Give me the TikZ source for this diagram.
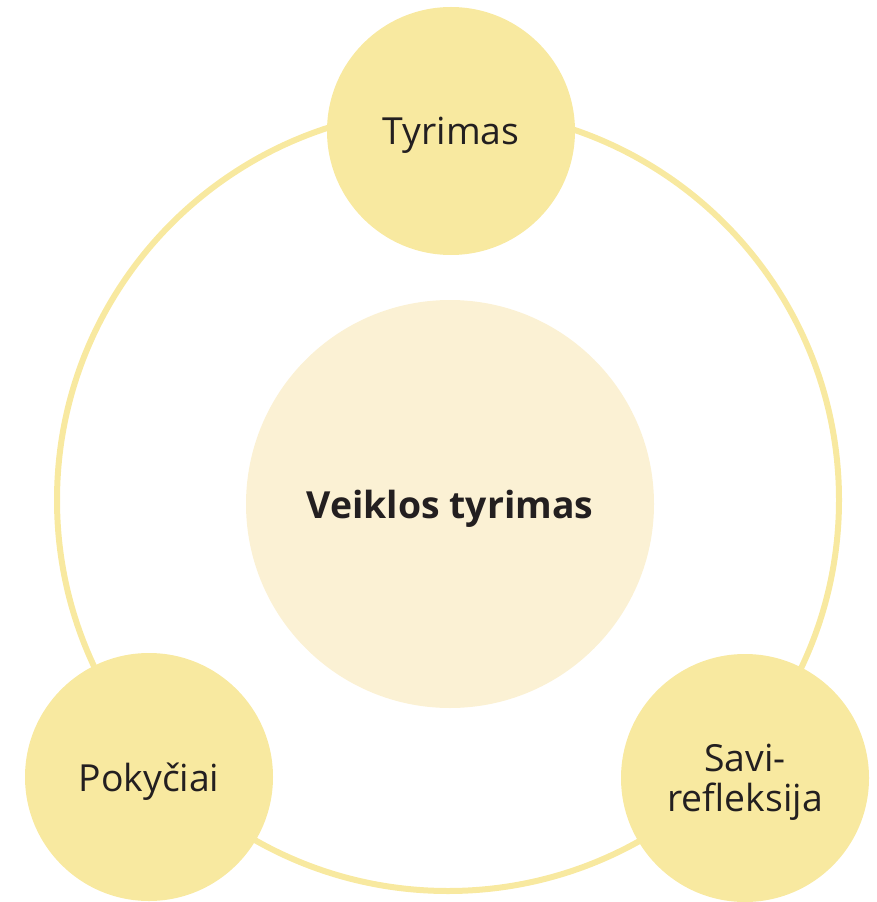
\documentclass[tikz,border=0pt]{standalone}
\usepackage{fontspec}
\setmainfont{Open Sans}
\usepackage{tikz}

\definecolor{bubble}{HTML}{F8E9A0}
\definecolor{core}{HTML}{FBF1D4}
\definecolor{ink}{HTML}{231F20}

\begin{document}
\begin{tikzpicture}[x=0.75pt,y=-0.75pt,
  ring/.style={draw=bubble, line width=4.5pt},
  small/.style={circle, fill=bubble, minimum size=186pt, inner sep=0pt,
    text=ink, font=\fontsize{28}{30}\selectfont, align=center, text depth=0pt},
  big/.style={circle, fill=core, minimum size=306pt, inner sep=0pt,
    text=ink, font=\fontsize{28}{30}\selectfont\bfseries, text depth=0pt}]
  \useasboundingbox (0,0) rectangle (876,902);
  %\draw[red] (0,0) rectangle (876,902);
  \coordinate (mid) at (448,500);
  \draw[ring] (mid) circle (391);

  \node[big] (veikla) at (450,504) {Veiklos tyrimas};
  \node[small] (tyrimas) at (451,131) {Tyrimas};
  \node[small] (pokyciai) at (149,777) {Pokyčiai};
  \node[small] (savirefl) at (745,778) {Savi-\\refleksija};
\end{tikzpicture}
\end{document}
